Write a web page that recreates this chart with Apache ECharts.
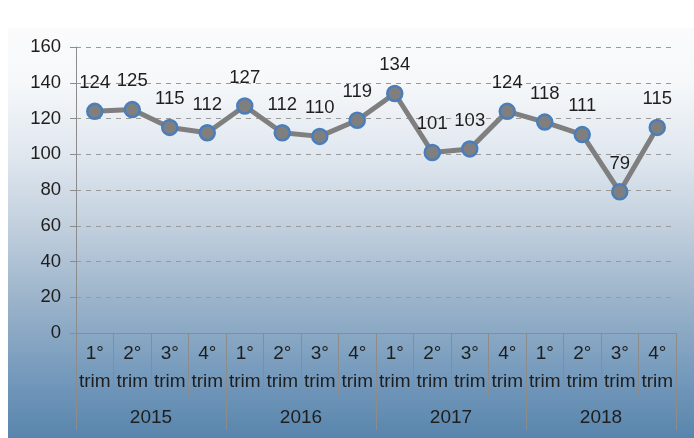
<!DOCTYPE html>
<html>
<head>
<meta charset="utf-8">
<script src="https://cdn.jsdelivr.net/npm/echarts@6/dist/echarts.min.js"></script>
<style>
  html, body { margin: 0; padding: 0; background: #fff; }
  #chart { width: 694px; height: 438px; }
</style>
</head>
<body>
<div id="chart"></div>
<script>
const quarters = ["1°\ntrim", "2°\ntrim", "3°\ntrim", "4°\ntrim",
  "1°\ntrim", "2°\ntrim", "3°\ntrim", "4°\ntrim",
  "1°\ntrim", "2°\ntrim", "3°\ntrim", "4°\ntrim",
  "1°\ntrim", "2°\ntrim", "3°\ntrim", "4°\ntrim"];
const years = ["2015", "2016", "2017", "2018"];
const values = [124, 125, 115, 112, 127, 112, 110, 119, 134, 101, 103, 124, 118, 111, 79, 115];
const yTicks = { min: 0, max: 160, interval: 20 };

const chart = echarts.init(document.getElementById("chart"));

const font = "'Liberation Sans', Arial, sans-serif";
const textColor = "#1e1e1e";

chart.setOption({
  animation: false,
  textStyle: { fontFamily: font },
  graphic: [
    {
      type: "rect",
      z: -10,
      shape: { x: 8, y: 28, width: 700, height: 410 },
      style: {
        fill: {
          type: "linear", x: 0, y: 0, x2: 0, y2: 1,
          colorStops: [
            { offset: 0, color: "#fbfbfc" },
            { offset: 0.13, color: "#f6f8fa" },
            { offset: 0.31, color: "#e0e7ef" },
            { offset: 0.48, color: "#c2d0de" },
            { offset: 0.66, color: "#9cb4cb" },
            { offset: 0.86, color: "#7298bb" },
            { offset: 1, color: "#5985ac" },
          ],
        },
      },
    },
  ],
  grid: { left: 76, right: 18, top: 47, bottom: 105, containLabel: false },
  xAxis: [
    {
      type: "category",
      data: quarters,
      position: "bottom",
      boundaryGap: true,
      axisLine: { show: true, lineStyle: { color: "#8c8c8c", width: 1 } },
      axisTick: { show: true, interval: 0, length: 62, lineStyle: { color: "#8c8c8c" } },
      axisLabel: {
        interval: 0,
        margin: 7,
        fontSize: 19,
        lineHeight: 28,
        color: textColor,
        fontFamily: font,
      },
    },
    {
      type: "category",
      data: years,
      position: "bottom",
      boundaryGap: true,
      axisLine: { show: false },
      axisTick: { show: true, interval: 0, length: 97, lineStyle: { color: "#8c8c8c" } },
      axisLabel: {
        interval: 0,
        margin: 75,
        fontSize: 19,
        color: textColor,
        fontFamily: font,
      },
    },
  ],
  yAxis: {
    type: "value",
    min: yTicks.min,
    max: yTicks.max,
    interval: yTicks.interval,
    axisLine: { show: true, lineStyle: { color: "#8c8c8c" } },
    axisTick: { show: true, length: 6, lineStyle: { color: "#8c8c8c" } },
    axisLabel: { margin: 15, fontSize: 18.5, color: textColor, fontFamily: font },
    splitLine: { show: true, lineStyle: { color: "#9a9a9a", type: [5, 5], width: 1 } },
  },
  series: [
    {
      type: "line",
      xAxisIndex: 0,
      data: values,
      symbol: "circle",
      symbolSize: 15,
      lineStyle: { color: "#7f7f7f", width: 5 },
      itemStyle: { color: "#7f7f7f", borderColor: "#4a7ebb", borderWidth: 2.5 },
      label: {
        show: true,
        position: "top",
        distance: 10,
        fontSize: 18.5,
        color: textColor,
        fontFamily: font,
      },
    },
  ],
});
</script>
</body>
</html>
